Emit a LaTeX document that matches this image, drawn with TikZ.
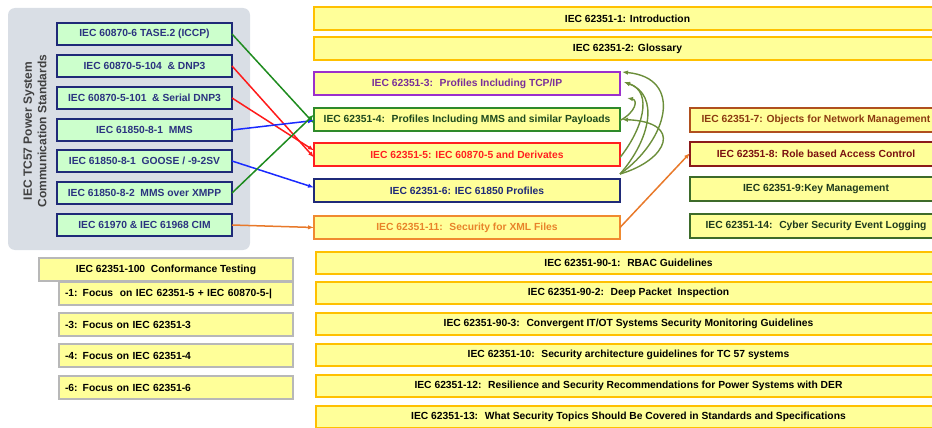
\documentclass[tikz,border=0pt]{standalone}
\usepackage{fontspec}
\setmainfont{Liberation Sans}
\usetikzlibrary{arrows.meta}
\definecolor{panel}{HTML}{D9DEE5}
\definecolor{lgreen}{HTML}{CCFFCC}
\definecolor{navy}{HTML}{1F2A78}
\definecolor{navytxt}{HTML}{2B3380}
\definecolor{lyellow}{HTML}{FFFF99}
\definecolor{gold}{HTML}{FFC000}
\definecolor{purp}{HTML}{9B30CC}
\definecolor{purptxt}{HTML}{7A2E9A}
\definecolor{grn}{HTML}{2E8A2A}
\definecolor{grntxt}{HTML}{1E4A1E}
\definecolor{rd}{HTML}{FF2020}
\definecolor{orng}{HTML}{F08A30}
\definecolor{orngtxt}{HTML}{E8832A}
\definecolor{brn}{HTML}{B0501E}
\definecolor{brntxt}{HTML}{8B3A10}
\definecolor{drd}{HTML}{8B1A1A}
\definecolor{drdtxt}{HTML}{7A1010}
\definecolor{dgrn}{HTML}{3D6B2A}
\definecolor{dgrntxt}{HTML}{1E3A1E}
\definecolor{grayb}{HTML}{B8B8B8}
\definecolor{olive}{HTML}{6B8E3A}
\definecolor{cgreen}{HTML}{1E8B1E}
\definecolor{cred}{HTML}{FF1A1A}
\definecolor{cblue}{HTML}{1A2AFF}
\definecolor{corange}{HTML}{E8792A}
\begin{document}
\begin{tikzpicture}[x=1pt,y=-1pt,
  every node/.style={font=\fontsize{10.3}{12}\selectfont\bfseries, inner sep=0pt, outer sep=0pt},
  lbox/.style={draw=navy, fill=lgreen, text=navytxt, line width=1.8pt, anchor=north west, minimum width=175pt, minimum height=22pt},
  ybox/.style={draw=gold, fill=lyellow, text=black, line width=1.8pt, anchor=north west, minimum width=627pt, minimum height=23pt},
  mbox/.style={fill=lyellow, line width=1.8pt, anchor=north west, minimum width=306pt, minimum height=23pt},
  sbox/.style={fill=lyellow, line width=1.8pt, anchor=north west, minimum width=252pt, minimum height=24pt},
  tbox/.style={draw=grayb, fill=lyellow, text=black, line width=1.2pt, anchor=north west, minimum height=23pt},
  conn/.style={line width=1.5pt, -{Latex[length=6pt,width=4.5pt]}},
  curv/.style={olive, line width=1.4pt, -{Latex[length=6pt,width=4.5pt]}}
]
\useasboundingbox (0,0) rectangle (932,428);
% panel
\fill[panel, rounded corners=7pt] (8,8) rectangle (250,250);
\node[rotate=90, align=center, text=black!75, font=\fontsize{12}{14.5}\selectfont\bfseries] (title) at (35,131) {IEC TC57 Power System\\Communication Standards};
% left boxes
\node[lbox] (l1) at (57,23) {IEC 60870-6 TASE.2 (ICCP)};
\node[lbox] (l2) at (57,55) {IEC 60870-5-104 \ \& DNP3};
\node[lbox] (l3) at (57,87) {IEC 60870-5-101 \ \& Serial DNP3};
\node[lbox] (l4) at (57,119) {IEC 61850-8-1 \ MMS};
\node[lbox] (l5) at (57,150) {IEC 61850-8-1 \ GOOSE / -9-2SV};
\node[lbox] (l6) at (57,182) {IEC 61850-8-2 \ MMS over XMPP};
\node[lbox] (l7) at (57,214) {IEC 61970 \& IEC 61968 CIM};
% top full boxes
\node[ybox] (p1) at (314,7) {IEC 62351-1: Introduction};
\node[ybox] (p2) at (314,37) {IEC 62351-2: Glossary};
% middle boxes
\node[mbox, draw=purp, text=purptxt] (p3) at (314,72) {IEC 62351-3: \ Profiles Including TCP/IP};
\node[mbox, draw=grn, text=grntxt] (p4) at (314,108) {IEC 62351-4: \ Profiles Including MMS and similar Payloads};
\node[mbox, draw=rd, text=rd] (p5) at (314,143) {IEC 62351-5: IEC 60870-5 and Derivates};
\node[mbox, draw=navy, text=navy] (p6) at (314,179) {IEC 62351-6: IEC 61850 Profiles};
\node[mbox, draw=orng, text=orngtxt] (p11) at (314,216) {IEC 62351-11: \ Security for XML Files};
% right small boxes
\node[sbox, draw=brn, text=brntxt] (p7) at (690,108) {IEC 62351-7: Objects for Network Management};
\node[sbox, draw=drd, text=drdtxt] (p8) at (690,142) {IEC 62351-8: Role based Access Control};
\node[sbox, draw=dgrn, text=dgrntxt] (p9) at (690,177) {IEC 62351-9:Key Management};
\node[sbox, draw=dgrn, text=dgrntxt] (p14) at (690,214) {IEC 62351-14: \ Cyber Security Event Logging};
% bottom full boxes
\node[ybox, minimum width=625pt, minimum height=22pt] (q1) at (316,252) {IEC 62351-90-1: \ RBAC Guidelines};
\node[ybox, minimum width=625pt, minimum height=22pt] (q2) at (316,282) {IEC 62351-90-2: \ Deep Packet \ Inspection};
\node[ybox, minimum width=625pt, minimum height=22pt] (q3) at (316,313) {IEC 62351-90-3: \ Convergent IT/OT Systems Security Monitoring Guidelines};
\node[ybox, minimum width=625pt, minimum height=22pt] (q4) at (316,344) {IEC 62351-10: \ Security architecture guidelines for TC 57 systems};
\node[ybox, minimum width=625pt, minimum height=22pt] (q5) at (316,375) {IEC 62351-12: \ Resilience and Security Recommendations for Power Systems with DER};
\node[ybox, minimum width=625pt, minimum height=22pt] (q6) at (316,406) {IEC 62351-13: \ What Security Topics Should Be Covered in Standards and Specifications};
% conformance testing
\node[tbox, minimum width=234pt, text width=222pt, align=left] (t1) at (59,282) {-1: Focus \ on IEC 62351-5 + IEC 60870-5-|};
\node[tbox, minimum width=234pt, text width=222pt, align=left] (t3) at (59,313) {-3: Focus on IEC 62351-3};
\node[tbox, minimum width=234pt, text width=222pt, align=left] (t4) at (59,344) {-4: Focus on IEC 62351-4};
\node[tbox, minimum width=234pt, text width=222pt, align=left] (t6) at (59,376) {-6: Focus on IEC 62351-6};
\node[tbox, minimum width=254pt] (t0) at (39,258) {IEC 62351-100 \ Conformance Testing};
% connectors from left
\draw[conn, cgreen] (l1.east) -- ([yshift=-4pt]p4.west);
\draw[conn, cred] (l2.east) -- ([yshift=-3pt]p5.west);
\draw[conn, cred] (l3.east) -- ([yshift=4pt]p5.west);
\draw[conn, cblue] (l4.east) -- ([yshift=-1pt]p4.west);
\draw[conn, cblue] (l5.east) -- ([yshift=3pt]p6.west);
\draw[conn, cgreen] (l6.east) -- ([yshift=5pt]p4.west);
\draw[conn, corange] (l7.east) -- (p11.west);
\draw[conn, corange] (p11.east) -- ([yshift=1pt]p8.west);
% curved arrows
\draw[curv] ([yshift=-1pt]p4.east) .. controls (636,112) and (638,100) .. ([xshift=7pt,yshift=-3pt]p3.south east);
\draw[curv] ([yshift=-3pt]p5.east) .. controls (642,130) and (654,92) .. ([xshift=4pt,yshift=-10pt]p3.north east);
\draw[curv] ([yshift=5pt]p6.north east) .. controls (650,140) and (660,95) .. ([xshift=4pt,yshift=-10pt]p3.north east);
\draw[curv] ([yshift=5pt]p6.north east) .. controls (668,140) and (684,78) .. ([xshift=2pt]p3.north east);
\draw[curv] ([yshift=5pt]p6.north east) .. controls (668,160) and (684,122) .. ([xshift=2pt]p4.east);
\end{tikzpicture}
\end{document}
